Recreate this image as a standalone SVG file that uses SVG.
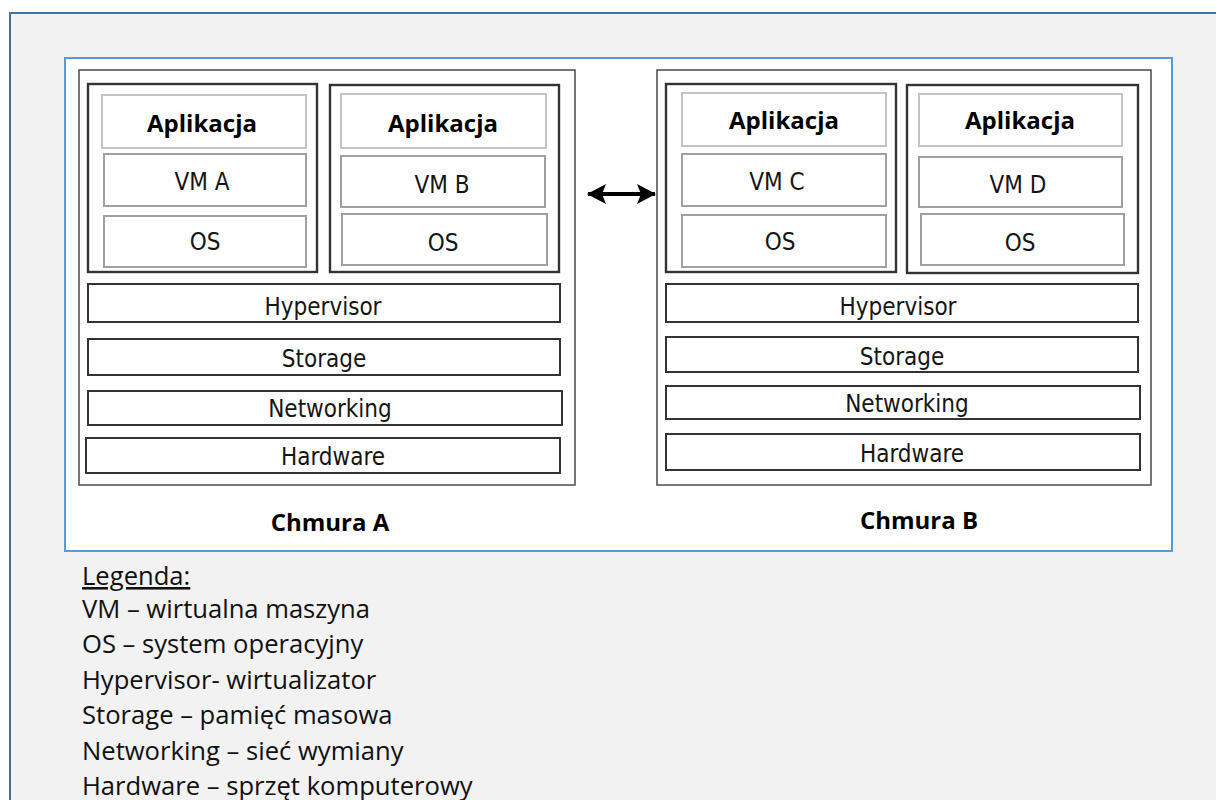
<svg xmlns="http://www.w3.org/2000/svg" width="1216" height="800" viewBox="0 0 1216 800">
  <style>
    .frame { fill: #f2f2f2; stroke: #41719c; stroke-width: 2; }
    .panel { fill: #ffffff; stroke: #5b9bd5; stroke-width: 2; }
    .cloud { fill: #ffffff; stroke: #555555; stroke-width: 1.6; }
    .vmbox { fill: #ffffff; stroke: #333333; stroke-width: 2.4; }
    .app { fill: #ffffff; stroke: #c4c4c4; stroke-width: 2; }
    .sub { fill: #ffffff; stroke: #a0a0a0; stroke-width: 2; }
    .layer { fill: #ffffff; stroke: #333333; stroke-width: 2; }
    .lbl { font-family: "DejaVu Sans Condensed", "DejaVu Sans", sans-serif; font-stretch: condensed; font-size: 24px; fill: #151515; text-anchor: middle; }
    .appt { font-family: "Open Sans", "Liberation Sans", sans-serif; font-weight: 700; font-size: 24px; fill: #000000; text-anchor: middle; }
    .title { font-family: "Open Sans", "Liberation Sans", sans-serif; font-weight: 700; font-size: 24px; fill: #000000; text-anchor: middle; }
    .leg { font-family: "Open Sans", "Liberation Sans", sans-serif; font-size: 25.6px; fill: #111111; }
    .conn { stroke: #000000; stroke-width: 4; fill: none; }
  </style>
  <defs>
    <marker id="head" viewBox="0 0 19 20" refX="18" refY="10" markerWidth="19" markerHeight="20" markerUnits="userSpaceOnUse" orient="auto-start-reverse">
      <path d="M0,0 L19,10 L0,20 L4,10 Z" fill="#000000"/>
    </marker>
  </defs>

  <rect x="0" y="0" width="1216" height="800" fill="#ffffff"/>
  <rect class="frame" x="10" y="13" width="1230" height="800"/>
  <rect class="panel" x="65" y="58" width="1107" height="493"/>

  <!-- Cloud A -->
  <g id="chmura-a">
    <rect class="cloud" x="79" y="70" width="496" height="415"/>
    <text class="title" x="330" y="531">Chmura A</text>
  </g>
  <g id="vm-a">
    <rect class="vmbox" x="88" y="84" width="229" height="188"/>
    <g id="app-a"><rect class="app" x="102" y="95" width="204" height="53"/><text class="appt" x="202" y="132">Aplikacja</text></g>
    <g id="vm-a-label"><rect class="sub" x="104" y="154" width="202" height="52"/><text class="lbl" x="202" y="190">VM A</text></g>
    <g id="os-a"><rect class="sub" x="104" y="216" width="202" height="51"/><text class="lbl" x="205" y="250">OS</text></g>
  </g>
  <g id="vm-b">
    <rect class="vmbox" x="330" y="85" width="229" height="187"/>
    <g id="app-b"><rect class="app" x="341" y="94" width="205" height="54"/><text class="appt" x="443" y="132">Aplikacja</text></g>
    <g id="vm-b-label"><rect class="sub" x="341" y="156" width="204" height="51"/><text class="lbl" x="442" y="193">VM B</text></g>
    <g id="os-b"><rect class="sub" x="342" y="214" width="205" height="51"/><text class="lbl" x="443" y="251">OS</text></g>
  </g>
  <g id="hypervisor-a"><rect class="layer" x="88" y="284" width="472" height="38"/><text class="lbl" x="323" y="315">Hypervisor</text></g>
  <g id="storage-a"><rect class="layer" x="88" y="339" width="472" height="36"/><text class="lbl" x="324" y="367">Storage</text></g>
  <g id="networking-a"><rect class="layer" x="88" y="391" width="474" height="34"/><text class="lbl" x="330" y="417">Networking</text></g>
  <g id="hardware-a"><rect class="layer" x="86" y="438" width="474" height="35"/><text class="lbl" x="333" y="465">Hardware</text></g>

  <!-- Cloud B -->
  <g id="chmura-b">
    <rect class="cloud" x="657" y="70" width="494" height="415"/>
    <text class="title" x="919" y="529">Chmura B</text>
  </g>
  <g id="vm-c">
    <rect class="vmbox" x="666" y="84" width="230" height="188"/>
    <g id="app-c"><rect class="app" x="682" y="93" width="204" height="53"/><text class="appt" x="784" y="129">Aplikacja</text></g>
    <g id="vm-c-label"><rect class="sub" x="682" y="154" width="204" height="52"/><text class="lbl" x="777" y="190">VM C</text></g>
    <g id="os-c"><rect class="sub" x="682" y="215" width="204" height="52"/><text class="lbl" x="780" y="250">OS</text></g>
  </g>
  <g id="vm-d">
    <rect class="vmbox" x="907" y="85" width="231" height="188"/>
    <g id="app-d"><rect class="app" x="919" y="94" width="203" height="52"/><text class="appt" x="1020" y="129">Aplikacja</text></g>
    <g id="vm-d-label"><rect class="sub" x="919" y="157" width="203" height="50"/><text class="lbl" x="1018" y="193">VM D</text></g>
    <g id="os-d"><rect class="sub" x="921" y="214" width="203" height="51"/><text class="lbl" x="1020" y="251">OS</text></g>
  </g>
  <g id="hypervisor-b"><rect class="layer" x="666" y="284" width="472" height="38"/><text class="lbl" x="898" y="315">Hypervisor</text></g>
  <g id="storage-b"><rect class="layer" x="666" y="337" width="472" height="35"/><text class="lbl" x="902" y="365">Storage</text></g>
  <g id="networking-b"><rect class="layer" x="666" y="386" width="474" height="33"/><text class="lbl" x="907" y="412">Networking</text></g>
  <g id="hardware-b"><rect class="layer" x="666" y="434" width="474" height="36"/><text class="lbl" x="912" y="462">Hardware</text></g>

  <!-- Connectors -->
  <g id="connectors">
    <line class="conn" x1="588" y1="194" x2="655" y2="194" marker-start="url(#head)" marker-end="url(#head)"/>
  </g>

  <!-- Legend -->
  <g id="legend">
    <text class="leg" x="82" y="585" text-decoration="underline">Legenda:</text>
    <text class="leg" x="82" y="618">VM – wirtualna maszyna</text>
    <text class="leg" x="82" y="653">OS – system operacyjny</text>
    <text class="leg" x="82" y="689">Hypervisor- wirtualizator</text>
    <text class="leg" x="82" y="724">Storage – pamięć masowa</text>
    <text class="leg" x="82" y="760">Networking – sieć wymiany</text>
    <text class="leg" x="82" y="795">Hardware – sprzęt komputerowy</text>
  </g>
</svg>
